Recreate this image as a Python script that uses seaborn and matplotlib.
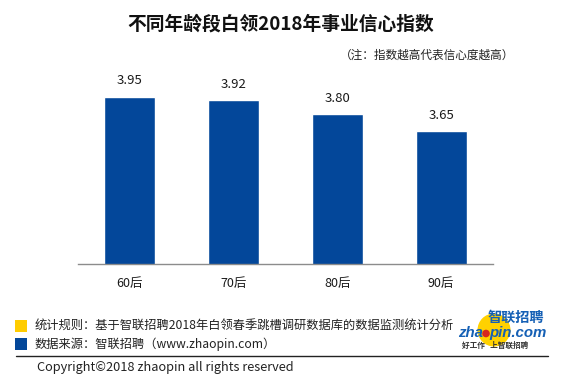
import matplotlib
matplotlib.use("Agg")
import matplotlib.pyplot as plt
import seaborn as sns
import pandas as pd
from matplotlib.patches import Circle, Rectangle

# dados
categorias = ["60后", "70后", "80后", "90后"]
indices = [3.95, 3.92, 3.80, 3.65]
rotulos = ["3.95", "3.92", "3.80", "3.65"]

titulo = "不同年龄段白领2018年事业信心指数"
nota = "（注：指数越高代表信心度越高）"
regra = "统计规则：基于智联招聘2018年白领春季跳槽调研数据库的数据监测统计分析"
fonte = "数据来源：智联招聘（www.zhaopin.com）"
copyright_txt = "Copyright©2018 zhaopin all rights reserved"

AZUL = "#03479A"
AMARELO = "#FFCC00"

sns.set_theme(style="white")
plt.rcParams["font.family"] = ["Noto Sans CJK SC", "DejaVu Sans"]

W, H = 561, 377
fig = plt.figure(figsize=(W / 100, H / 100), dpi=100)
fig.patch.set_facecolor("white")

# eixo principal (em pixels: x 78..493, base y=264)
ax = fig.add_axes([78 / W, (H - 264.3) / H, 415 / W, 196.5 / H])
df = pd.DataFrame({"cat": categorias, "val": indices})
sns.barplot(data=df, x="cat", y="val", color=AZUL, width=0.49,
            saturation=1, ax=ax)
ax.set_xlim(-0.5, 3.5)
ax.set_ylim(2.5, 4.2)
ax.set_xlabel("")
ax.set_ylabel("")
ax.set_yticks([])
for s in ["top", "right", "left"]:
    ax.spines[s].set_visible(False)
ax.spines["bottom"].set_color("#8c8c8c")
ax.spines["bottom"].set_linewidth(1.0)
ax.tick_params(axis="x", which="major", length=0, labelsize=9, pad=9,
               labelcolor="#1a1a1a")
ax.set_xticks([-0.5, 0.5, 1.5, 2.5, 3.5], minor=True)
ax.tick_params(axis="x", which="minor", length=4, color="#8c8c8c",
               direction="out", width=1.0)

for i, (v, t) in enumerate(zip(indices, rotulos)):
    ax.annotate(t, (i, v), xytext=(0, 11.5), textcoords="offset points",
                ha="center", va="center", fontsize=9.5, color="#1a1a1a")

# camada de desenho em pixels
ov = fig.add_axes([0, 0, 1, 1], zorder=5)
ov.set_xlim(0, W)
ov.set_ylim(H, 0)
ov.axis("off")
ov.patch.set_alpha(0)

ov.text(281, 24.5, titulo, ha="center", va="center", fontsize=13.5,
        fontweight="bold", color="#111111")
ov.text(514, 55, nota, ha="right", va="center", fontsize=8.4, color="#222222")

# rodapé
ov.add_patch(Rectangle((15, 320), 12, 11.5, color=AMARELO, lw=0))
ov.add_patch(Rectangle((15, 338), 12, 11.5, color=AZUL, lw=0))
ov.text(35, 325.5, regra, ha="left", va="center", fontsize=8.8, color="#222222")
ov.text(35, 344, fonte, ha="left", va="center", fontsize=8.8, color="#222222")
ov.plot([16, 548], [355.5, 355.5], color="#222222", lw=1.0)
ov.text(37, 368, copyright_txt, ha="left", va="center", fontsize=9.2,
        color="#222222")

# logo
ov.add_patch(Circle((494, 330), 16.5, color="#FFD100", lw=0))
ov.text(516, 318, "智联招聘", ha="center", va="center", fontsize=10.2,
        fontweight="bold", color="#1560B5")
ov.text(483, 333, "zha", ha="right", va="center", fontsize=10.8,
        fontweight="bold", style="italic", family="Liberation Sans",
        color="#1560B5")
ov.add_patch(Circle((486, 333.5), 3.8, color="#D7261E", lw=0))
ov.text(489, 333, "pin.com", ha="left", va="center", fontsize=10.8,
        fontweight="bold", style="italic", family="Liberation Sans",
        color="#1560B5")
ov.text(495, 345, "好工作   上智联招聘", ha="center", va="center", fontsize=5.5,
        fontweight="bold", color="#333333")

fig.savefig("out.png", dpi=100, facecolor="white")
